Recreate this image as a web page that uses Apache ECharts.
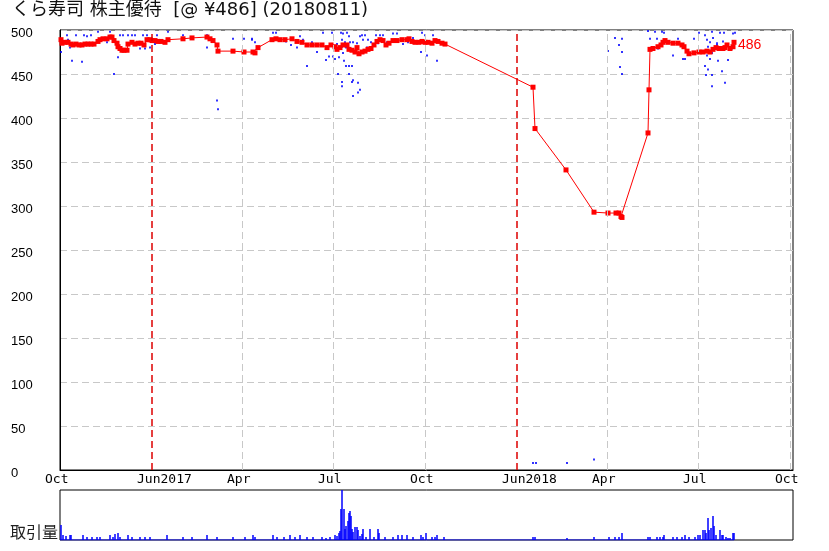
<!DOCTYPE html>
<html>
<head>
<meta charset="utf-8">
<script src="https://cdn.jsdelivr.net/npm/echarts@6/dist/echarts.min.js"></script>
<style>html,body{margin:0;padding:0;background:#fff}#c{width:829px;height:551px}</style>
</head>
<body>
<div id="c"></div>
<script>
const titleText = 'くら寿司 株主優待  [@ ¥486] (20180811)';
const volumeLabel = '取引量';
const xMin = '2016-10-01';
const xMax = '2018-10-04';
const tickDates = ['2016-10-01','2017-01-01','2017-04-01','2017-07-01','2017-10-01','2018-01-01','2018-04-01','2018-07-01','2018-10-01'];
const tickLabels = ['Oct','Jun2017','Apr','Jul','Oct','Jun2018','Apr','Jul','Oct'];
const yearLineDates = ['2017-01-01','2018-01-01'];
const quarterLineDates = ['2017-04-01','2017-07-01','2017-10-01','2018-04-01','2018-07-01','2018-10-01'];

const priceData = [['2016-10-02',489],['2016-10-03',485],['2016-10-06',486],['2016-10-09',486],['2016-10-12',484],['2016-10-14',483],['2016-10-17',484],['2016-10-20',483],['2016-10-23',483],['2016-10-26',484],['2016-10-29',484],['2016-11-01',484],['2016-11-04',484],['2016-11-08',487],['2016-11-10',489],['2016-11-13',490],['2016-11-17',490],['2016-11-20',492],['2016-11-22',492],['2016-11-24',488],['2016-11-27',485],['2016-11-28',481],['2016-11-30',479],['2016-12-02',477],['2016-12-04',477],['2016-12-07',477],['2016-12-08',484],['2016-12-12',486],['2016-12-15',484],['2016-12-18',485],['2016-12-21',485],['2016-12-24',483],['2016-12-27',489],['2016-12-30',489],['2017-01-01',488],['2017-01-04',488],['2017-01-07',487],['2017-01-10',487],['2017-01-14',486],['2017-01-17',489],['2017-02-01',490],['2017-02-10',491],['2017-02-25',492],['2017-02-28',490],['2017-03-03',488],['2017-03-07',483],['2017-03-08',476],['2017-03-23',476],['2017-04-03',475],['2017-04-12',475],['2017-04-14',474],['2017-04-17',480],['2017-05-01',489],['2017-05-05',490],['2017-05-09',489],['2017-05-14',489],['2017-05-21',490],['2017-05-26',487],['2017-05-31',486],['2017-06-05',483],['2017-06-10',483],['2017-06-15',483],['2017-06-20',483],['2017-06-25',480],['2017-06-29',483],['2017-07-03',481],['2017-07-05',478],['2017-07-08',480],['2017-07-11',483],['2017-07-15',483],['2017-07-17',478],['2017-07-20',477],['2017-07-23',475],['2017-07-25',480],['2017-07-27',473],['2017-07-30',475],['2017-08-02',476],['2017-08-05',478],['2017-08-08',479],['2017-08-11',483],['2017-08-14',487],['2017-08-17',489],['2017-08-20',488],['2017-08-23',483],['2017-08-26',485],['2017-08-30',488],['2017-09-03',488],['2017-09-08',489],['2017-09-13',489],['2017-09-15',490],['2017-09-18',487],['2017-09-21',486],['2017-09-25',486],['2017-09-28',487],['2017-10-01',486],['2017-10-04',486],['2017-10-08',485],['2017-10-11',488],['2017-10-14',487],['2017-10-18',485],['2017-10-21',484],['2018-01-17',435],['2018-01-19',388],['2018-02-19',341],['2018-03-19',293],['2018-04-02',292],['2018-04-10',292],['2018-04-13',292],['2018-04-15',288],['2018-04-16',287],['2018-05-12',383],['2018-05-13',432],['2018-05-14',478],['2018-05-17',479],['2018-05-22',481],['2018-05-25',483],['2018-05-27',486],['2018-05-29',488],['2018-06-01',486],['2018-06-06',485],['2018-06-11',485],['2018-06-15',483],['2018-06-17',481],['2018-06-20',476],['2018-06-22',473],['2018-06-27',474],['2018-07-02',475],['2018-07-06',475],['2018-07-10',476],['2018-07-13',475],['2018-07-16',478],['2018-07-19',480],['2018-07-22',479],['2018-07-26',479],['2018-07-28',480],['2018-07-30',483],['2018-08-02',479],['2018-08-05',481],['2018-08-06',486]];

const tradeData = [['2016-10-08',494],['2016-10-17',494],['2016-10-25',494],['2016-10-28',493],['2016-11-01',494],['2016-11-08',498],['2016-11-20',498],['2016-11-30',494],['2016-12-03',494],['2016-12-08',494],['2016-12-12',494],['2016-12-15',494],['2016-12-23',494],['2016-12-27',494],['2017-01-06',494],['2017-01-17',498],['2017-02-01',494],['2017-02-25',494],['2017-03-23',490],['2017-04-03',490],['2017-04-11',490],['2016-10-02',475],['2016-10-11',480],['2016-10-13',465],['2016-10-23',464],['2016-10-09',489],['2016-11-17',486],['2016-11-28',469],['2016-11-24',450],['2016-12-20',479],['2016-12-25',479],['2016-12-30',480],['2017-01-04',484],['2017-01-12',487],['2017-02-25',480],['2017-03-07',420],['2017-03-08',410],['2017-05-02',497],['2017-05-05',497],['2017-04-14',486],['2017-04-11',489],['2017-05-22',491],['2017-05-29',493],['2017-06-01',489],['2017-06-10',486],['2017-06-15',475],['2017-06-21',497],['2017-06-30',497],['2017-06-05',459],['2017-06-24',466],['2017-06-27',470],['2017-05-26',480],['2017-05-20',483],['2017-05-15',487],['2017-07-09',497],['2017-07-11',496],['2017-07-15',497],['2017-07-17',493],['2017-07-10',489],['2017-07-13',486],['2017-07-18',486],['2017-07-21',486],['2017-07-05',484],['2017-07-10',481],['2017-07-14',480],['2017-07-16',478],['2017-07-11',474],['2017-07-07',469],['2017-07-12',465],['2017-07-14',459],['2017-07-17',459],['2017-07-20',459],['2017-07-06',450],['2017-07-17',450],['2017-07-10',441],['2017-07-10',436],['2017-07-20',441],['2017-07-21',443],['2017-07-26',440],['2017-07-28',432],['2017-07-26',429],['2017-07-21',425],['2017-07-03',467],['2017-07-01',470],['2017-07-25',485],['2017-07-28',493],['2017-07-31',489],['2017-07-30',494],['2017-08-02',494],['2017-08-05',489],['2017-08-08',486],['2017-08-13',494],['2017-08-17',494],['2017-08-20',494],['2017-08-15',485],['2017-08-24',486],['2017-08-30',496],['2017-09-03',496],['2017-09-09',484],['2017-09-19',491],['2017-09-28',497],['2017-10-01',494],['2017-10-09',494],['2017-10-03',471],['2017-09-27',475],['2017-10-13',465],['2017-09-14',486],['2017-08-04',480],['2017-07-06',479],['2018-01-17',8],['2018-01-20',8],['2018-02-20',8],['2018-03-19',12],['2018-04-09',491],['2018-04-02',476],['2018-04-13',483],['2018-04-16',490],['2018-04-16',475],['2018-04-14',458],['2018-04-16',450],['2018-05-12',499],['2018-05-26',498],['2018-05-28',497],['2018-05-19',498],['2018-05-14',490],['2018-05-21',490],['2018-05-22',479],['2018-06-06',471],['2018-06-16',467],['2018-06-18',467],['2018-06-11',490],['2018-06-27',490],['2018-07-02',497],['2018-07-08',494],['2018-07-15',498],['2018-07-23',497],['2018-07-27',497],['2018-08-05',496],['2018-08-07',497],['2018-07-10',489],['2018-07-13',486],['2018-07-16',491],['2018-07-20',485],['2018-07-11',481],['2018-07-15',474],['2018-07-10',471],['2018-07-13',467],['2018-07-08',459],['2018-07-11',455],['2018-07-09',449],['2018-07-15',449],['2018-07-21',465],['2018-07-31',466],['2018-07-25',453],['2018-07-28',440],['2018-07-15',436],['2018-08-04',479],['2018-07-20',483],['2018-07-26',487]];

const volumeData = [['2016-10-02',1500],['2016-10-04',500],['2016-10-07',400],['2016-10-11',500],['2016-10-12',500],['2016-10-24',500],['2016-10-28',300],['2016-11-02',300],['2016-11-07',300],['2016-11-10',300],['2016-11-20',500],['2016-11-23',300],['2016-11-25',600],['2016-11-28',700],['2016-11-30',300],['2016-12-08',500],['2016-12-12',300],['2016-12-20',300],['2016-12-25',300],['2016-12-30',300],['2017-01-16',500],['2017-02-01',300],['2017-02-10',300],['2017-02-25',500],['2017-03-07',300],['2017-03-23',300],['2017-04-04',300],['2017-04-12',500],['2017-04-14',300],['2017-05-02',500],['2017-05-06',300],['2017-05-13',300],['2017-05-19',500],['2017-05-24',300],['2017-05-29',500],['2017-06-05',300],['2017-06-11',300],['2017-06-20',300],['2017-06-24',200],['2017-06-28',300],['2017-07-03',500],['2017-07-05',400],['2017-07-07',700],['2017-07-08',900],['2017-07-09',3100],['2017-07-10',5000],['2017-07-12',3100],['2017-07-13',1100],['2017-07-14',1400],['2017-07-16',1900],['2017-07-17',2700],['2017-07-18',2900],['2017-07-19',2400],['2017-07-20',1100],['2017-07-21',800],['2017-07-23',1300],['2017-07-25',1300],['2017-07-26',1000],['2017-07-28',400],['2017-07-30',600],['2017-07-31',1100],['2017-08-03',300],['2017-08-07',1100],['2017-08-11',300],['2017-08-15',1100],['2017-08-16',700],['2017-08-22',300],['2017-08-30',300],['2017-09-04',500],['2017-09-08',500],['2017-09-13',500],['2017-09-19',300],['2017-09-27',500],['2017-09-29',300],['2017-10-02',700],['2017-10-08',300],['2017-10-11',300],['2017-10-13',500],['2017-10-20',300],['2018-01-17',300],['2018-01-19',300],['2018-02-20',200],['2018-03-19',300],['2018-04-03',300],['2018-04-09',300],['2018-04-13',300],['2018-04-16',700],['2018-05-12',300],['2018-05-14',300],['2018-05-21',300],['2018-05-24',300],['2018-05-27',300],['2018-05-28',500],['2018-06-06',300],['2018-06-10',300],['2018-06-15',300],['2018-06-18',500],['2018-06-22',300],['2018-06-28',300],['2018-07-01',500],['2018-07-03',500],['2018-07-06',1000],['2018-07-08',1000],['2018-07-09',700],['2018-07-11',2200],['2018-07-12',1000],['2018-07-14',1200],['2018-07-16',2400],['2018-07-17',1400],['2018-07-19',500],['2018-07-23',1000],['2018-07-25',500],['2018-07-26',500],['2018-07-29',300],['2018-07-31',200],['2018-08-02',200],['2018-08-05',700],['2018-08-06',700]];
const volumeBaseline = [['2016-10-01',0],['2018-08-06',0]];

const toT = d => Date.parse(d + 'T00:00:00Z');
const withTime = arr => arr.map(p => [toT(p[0]), p[1]]);
const tickTimes = tickDates.map(toT);
const chart = echarts.init(document.getElementById('c'), null, {renderer: 'canvas'});
const monoFont = 'DejaVu Sans Mono';
const gridLine = (d, color, w) => ({xAxis: toT(d), lineStyle: {color: color, type: [7, 4], width: w}});

chart.setOption({
  animation: false,
  backgroundColor: '#fff',
  title: [
    {text: titleText, left: 12, top: 1, padding: 0,
     textStyle: {fontSize: 18, fontWeight: 'normal', color: '#111', fontFamily: "'DejaVu Sans', 'Noto Sans CJK JP'"}},
    {text: volumeLabel, left: 10, top: 524, padding: 0,
     textStyle: {fontSize: 16, fontWeight: 'normal', color: '#222', fontFamily: 'Noto Sans CJK JP'}}
  ],
  grid: [
    {left: 60, top: 30, width: 733, height: 440, show: true, borderColor: '#000', borderWidth: 1, backgroundColor: 'transparent'},
    {left: 60, top: 490, width: 733, height: 50, show: true, borderColor: '#000', borderWidth: 1, backgroundColor: 'transparent'}
  ],
  xAxis: [
    {type: 'value', gridIndex: 0, min: toT(xMin), max: toT(xMax), scale: true,
     axisLine: {show: true, onZero: false, lineStyle: {color: '#000', width: 1}},
     axisTick: {show: false}, splitLine: {show: false},
     axisLabel: {customValues: tickTimes, color: '#000', fontFamily: monoFont, fontSize: 13, margin: 3,
       align: 'left', padding: [0, 0, 0, -15], hideOverlap: false,
       formatter: function (v) { const i = tickTimes.indexOf(+v); return i >= 0 ? tickLabels[i] : ''; }}},
    {type: 'value', gridIndex: 1, min: toT(xMin), max: toT(xMax), scale: true,
     axisLine: {show: false}, axisTick: {show: false}, splitLine: {show: false}, axisLabel: {show: false}}
  ],
  yAxis: [
    {type: 'value', gridIndex: 0, min: 0, max: 500, interval: 50,
     axisLine: {show: true, lineStyle: {color: '#000'}}, axisTick: {show: false},
     splitLine: {show: true, lineStyle: {color: '#c8c8c8', type: [7, 4], width: 1}},
     axisLabel: {color: '#000', fontFamily: 'Liberation Sans', fontSize: 13, align: 'left', margin: 49,
       verticalAlign: 'top', lineHeight: 6}},
    {type: 'value', gridIndex: 1, min: 0, max: 5000,
     axisLine: {show: false}, axisTick: {show: false}, splitLine: {show: false}, axisLabel: {show: false}}
  ],
  series: [
    {name: 'trades', type: 'scatter', xAxisIndex: 0, yAxisIndex: 0, data: withTime(tradeData),
     symbol: 'rect', symbolSize: 2, itemStyle: {color: '#0000ff'}, z: 2, silent: true},
    {name: 'price', type: 'line', xAxisIndex: 0, yAxisIndex: 0, data: withTime(priceData),
     symbol: 'rect', symbolSize: 5, showAllSymbol: true,
     lineStyle: {color: '#ff0000', width: 1}, itemStyle: {color: '#ff0000'}, z: 4, silent: true,
     endLabel: {show: true, formatter: function (p) { return String(p.value[1]); }, color: '#ff0000',
       fontFamily: 'Liberation Sans', fontSize: 14, distance: 4, offset: [0, 3]},
     markLine: {silent: true, symbol: 'none', label: {show: false}, animation: false,
       data: [
         ...quarterLineDates.map(d => gridLine(d, '#c8c8c8', 1)),
         ...yearLineDates.map(d => gridLine(d, '#dd0000', 1.5))
       ]}},
    {name: 'volume', type: 'bar', xAxisIndex: 1, yAxisIndex: 1, data: withTime(volumeData),
     barWidth: 1.5, itemStyle: {color: '#0000ff'}, silent: true},
    {name: 'volumeBase', type: 'line', xAxisIndex: 1, yAxisIndex: 1, data: withTime(volumeBaseline),
     symbol: 'none', lineStyle: {color: '#0000ff', width: 1}, z: 5, silent: true}
  ]
});
</script>
</body>
</html>
